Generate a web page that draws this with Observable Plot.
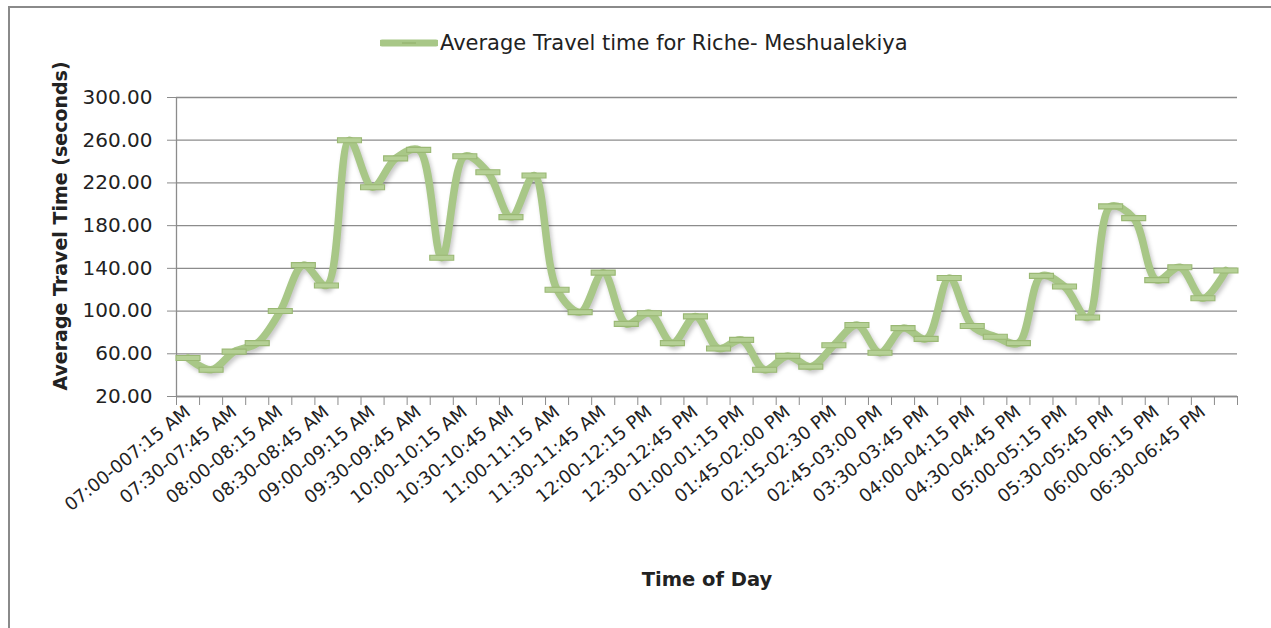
<!DOCTYPE html>
<html><head><meta charset="utf-8">
<script src="https://cdn.jsdelivr.net/npm/d3@7"></script>
<script src="https://cdn.jsdelivr.net/npm/@observablehq/plot@0.6"></script>
<style>
body{margin:0;background:#fff;}
#wrap{position:relative;width:1271px;height:628px;overflow:hidden;background:#fff;}
#border{position:absolute;left:8px;top:6px;width:1400px;height:800px;border-top:2px solid #8a8a8a;border-left:2px solid #8a8a8a;}
#legend{position:absolute;left:380px;top:31px;display:flex;align-items:center;font-family:"DejaVu Sans",sans-serif;font-size:21px;color:#222;white-space:nowrap;}
#legend svg{margin-right:2px;}
#chart{position:absolute;left:0;top:0;}
g[aria-label="line"]{filter:drop-shadow(2px 3px 2px rgba(0,0,0,0.22));}
</style>
</head><body>
<div id="wrap">
  <div id="border"></div>
  <div id="legend"><svg width="58" height="14"><line x1="2" y1="7" x2="56" y2="7" stroke="#a8c787" stroke-width="7" stroke-linecap="round"/><line x1="22" y1="7" x2="36" y2="7" stroke="#8fae68" stroke-width="1"/></svg><span id="legendText"></span></div>
  <div id="chart"></div>
</div>
<script>
const seriesName = "Average Travel time for Riche- Meshualekiya";
const categories = [
  "07:00-007:15 AM","07:15-07:30 AM","07:30-07:45 AM","07:45-08:00 AM",
  "08:00-08:15 AM","08:15-08:30 AM","08:30-08:45 AM","08:45-09:00 AM",
  "09:00-09:15 AM","09:15-09:30 AM","09:30-09:45 AM","09:45-10:00 AM",
  "10:00-10:15 AM","10:15-10:30 AM","10:30-10:45 AM","10:45-11:00 AM",
  "11:00-11:15 AM","11:15-11:30 AM","11:30-11:45 AM","11:45-12:00 PM",
  "12:00-12:15 PM","12:15-12:30 PM","12:30-12:45 PM","12:45-01:00 PM",
  "01:00-01:15 PM","01:15-01:30 PM","01:45-02:00 PM","02:00-02:15 PM",
  "02:15-02:30 PM","02:30-02:45 PM","02:45-03:00 PM","03:00-03:15 PM",
  "03:30-03:45 PM","03:45-04:00 PM","04:00-04:15 PM","04:15-04:30 PM",
  "04:30-04:45 PM","04:45-05:00 PM","05:00-05:15 PM","05:15-05:30 PM",
  "05:30-05:45 PM","05:45-06:00 PM","06:00-06:15 PM","06:15-06:30 PM",
  "06:30-06:45 PM","06:45-07:00 PM"
];
const travelTime = [
  56, 45, 62, 70, 100, 143, 124, 260, 216, 243, 251, 150,
  245, 230, 188, 227, 120, 99, 136, 88, 98, 70, 95, 65,
  73, 45, 58, 48, 68, 87, 61, 84, 74, 131, 86, 76,
  70, 133, 123, 94, 198, 187, 129, 141, 112, 138
];
const yTicks = [20, 60, 100, 140, 180, 220, 260, 300];
const yTitle = "Average Travel Time (seconds)";
const xTitle = "Time of Day";

document.getElementById("legendText").textContent = seriesName;

const data = categories.map((c, i) => ({i, label: c, value: travelTime[i]}));
const labelIdx = categories.map((_, i) => i).filter(i => i % 2 === 0);
const boundaryIdx = d3.range(categories.length + 1).map(i => i - 0.5);

const dash = {draw(ctx) { ctx.moveTo(-12, -2.5); ctx.lineTo(12, -2.5); ctx.lineTo(12, 2.5); ctx.lineTo(-12, 2.5); ctx.closePath(); }};
const gridColor = "#8c8c8c";

const chart = Plot.plot({
  width: 1271, height: 628,
  marginLeft: 176, marginRight: 34, marginTop: 97, marginBottom: 232,
  style: {fontFamily: "DejaVu Sans, sans-serif", fontSize: "18px", color: "#222", background: "transparent"},
  x: {type: "linear", domain: [-0.5, categories.length - 0.5]},
  y: {domain: [20, 300]},
  marks: [
    Plot.gridY(yTicks, {stroke: gridColor, strokeOpacity: 1, strokeWidth: 1.3}),
    Plot.ruleY([20], {stroke: gridColor, strokeWidth: 1.3}),
    Plot.ruleX([-0.5], {stroke: gridColor, strokeWidth: 1.3}),
    Plot.axisY(yTicks, {tickFormat: d3.format(".2f"), tickSize: 9, tickPadding: 15, stroke: gridColor, label: null, fontSize: 20}),
    Plot.axisX(boundaryIdx, {tickSize: 9, tickFormat: () => "", label: null, stroke: gridColor}),
    Plot.axisX(labelIdx, {tickSize: 0, tickRotate: -39, tickPadding: 13, tickFormat: i => categories[i], label: null, fontSize: 18}),
    Plot.line(data, {x: "i", y: "value", curve: "catmull-rom", stroke: "#a8c787", strokeWidth: 7.5, strokeLinejoin: "round"}),
    Plot.dot(data, {x: "i", y: "value", symbol: dash, fill: "#b5d096", stroke: "#9ab874", strokeWidth: 1.1}),
    Plot.text([yTitle], {text: d => d, frameAnchor: "left", textAnchor: "middle", rotate: -90, dx: -116, dy: -21, fontWeight: "bold", fontSize: 19}),
    Plot.text([xTitle], {text: d => d, frameAnchor: "bottom", textAnchor: "middle", dy: 189, fontWeight: "bold", fontSize: 19.5})
  ]
});
document.getElementById("chart").appendChild(chart);
</script>
</body></html>
